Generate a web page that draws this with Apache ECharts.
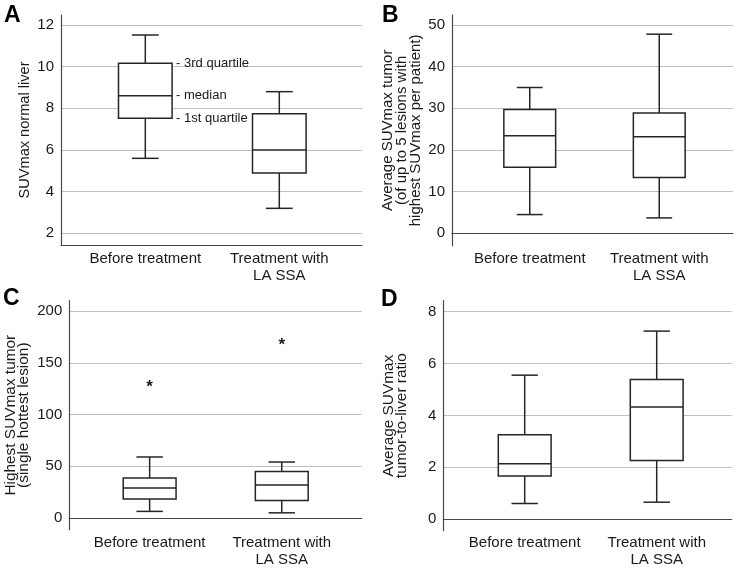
<!DOCTYPE html>
<html>
<head>
<meta charset="utf-8">
<script src="https://cdn.jsdelivr.net/npm/echarts@6/dist/echarts.min.js"></script>
<style>html,body{margin:0;padding:0;background:#fff}#c{width:740px;height:568px}</style>
</head>
<body>
<div id="c"></div>
<script>
// ---- data ----
const categories = ['Before treatment', 'Treatment with\nLA SSA'];
const panelLetters = ['A', 'B', 'C', 'D'];
const yTitles = [
  'SUVmax normal liver',
  'Average SUVmax tumor\n(of up to 5 lesions with\nhighest SUVmax per patient)',
  'Highest SUVmax tumor\n(single hottest lesion)',
  'Average SUVmax\ntumor-to-liver ratio'
];
// [min, Q1, median, Q3, max] per category
const boxA = [[5.6, 7.52, 8.61, 10.16, 11.52], [3.2, 4.9, 6.0, 7.74, 8.8]];
const boxB = [[4.5, 15.85, 23.4, 29.7, 35.0], [3.7, 13.4, 23.2, 28.9, 47.8]];
const boxC = [[5.8, 17.8, 28.6, 38.2, 58.6], [4.4, 16.3, 31.3, 44.5, 53.7]];
const boxD = [[0.55, 1.62, 2.09, 3.22, 5.53], [0.60, 2.22, 4.29, 5.36, 7.24]];
// outliers: [categoryIndex, value]
const outliersC = [[0, 130], [1, 171]];
const ticksA = [2, 4, 6, 8, 10, 12];
const ticksB = [0, 10, 20, 30, 40, 50];
const ticksC = [0, 50, 100, 150, 200];
const ticksD = [0, 2, 4, 6, 8];
const annotationLabels = ['- 1st quartile', '- median', '- 3rd quartile'];

// ---- layout (pixels) ----
const FONT = '"Liberation Sans", Arial, Helvetica, sans-serif';
const TXT = '#1a1a1a';
const panels = [
  {box: boxA, ticks: ticksA, min: 1.44, max: 12.48,
   frame: {left: 61, top: 15, width: 301, height: 230}, data: {left: 78.3, width: 268}, gap: 29,
   tfs: 14.6, tlh: 14.5, letter: [4, 4]},
  {box: boxB, ticks: ticksB, min: -2.97, max: 52.4,
   frame: {left: 452, top: 15, width: 281, height: 230.7}, data: {left: 465, width: 259}, gap: 29,
   tfs: 15, tlh: 14.2, letter: [382, 4]},
  {box: boxC, ticks: ticksC, min: -11.3, max: 210.3,
   frame: {left: 69.3, top: 300.7, width: 292.4, height: 229}, data: {left: 83.6, width: 264.2}, gap: 38.5,
   tfs: 15.4, tlh: 13.6, letter: [3, 287]},
  {box: boxD, ticks: ticksD, min: -0.44, max: 8.42,
   frame: {left: 443.3, top: 300.7, width: 288.4, height: 230}, data: {left: 458.7, width: 264}, gap: 34.5,
   tfs: 15.4, tlh: 13.6, letter: [381, 288]}
];

const grids = [], xAxes = [], yAxes = [], series = [], graphics = [];

function boxRender(params, api) {
  const x = api.value(0);
  const vals = [api.value(1), api.value(2), api.value(3), api.value(4), api.value(5)];
  const pts = vals.map(v => api.coord([x, v]));
  const cx = pts[0][0];
  const bw = api.size([1, 0])[0] * 0.4;
  const cw = bw * 0.5;
  const st = {stroke: '#262626', lineWidth: 1.5, fill: null};
  const line = (x1, y1, x2, y2) => ({type: 'line', shape: {x1, y1, x2, y2}, style: st});
  return {
    type: 'group',
    children: [
      line(cx, pts[0][1], cx, pts[1][1]),
      line(cx, pts[3][1], cx, pts[4][1]),
      line(cx - cw / 2, pts[0][1], cx + cw / 2, pts[0][1]),
      line(cx - cw / 2, pts[4][1], cx + cw / 2, pts[4][1]),
      {type: 'rect', shape: {x: cx - bw / 2, y: pts[3][1], width: bw, height: pts[1][1] - pts[3][1]},
       style: {stroke: '#262626', lineWidth: 1.5, fill: '#fff'}},
      line(cx - bw / 2, pts[2][1], cx + bw / 2, pts[2][1])
    ]
  };
}

panels.forEach((p, i) => {
  const gf = grids.length;
  grids.push({left: p.frame.left, top: p.frame.top, width: p.frame.width, height: p.frame.height, containLabel: false});
  grids.push({left: p.data.left, top: p.frame.top, width: p.data.width, height: p.frame.height, containLabel: false});
  // frame axes
  xAxes.push({gridIndex: gf, type: 'value', min: 0, max: 1,
    axisLine: {show: true, lineStyle: {color: '#484848', width: 1.2}},
    axisTick: {show: false}, axisLabel: {show: false}, splitLine: {show: false}});
  yAxes.push({gridIndex: gf, type: 'value', min: p.min, max: p.max,
    name: yTitles[i], nameLocation: 'middle', nameGap: p.gap, nameRotate: 90,
    nameTextStyle: {fontFamily: FONT, fontSize: p.tfs, lineHeight: p.tlh, color: TXT},
    axisLine: {show: true, lineStyle: {color: '#484848', width: 1.2}},
    axisTick: {show: false, customValues: p.ticks},
    axisLabel: {customValues: p.ticks, fontFamily: FONT, fontSize: 15, color: TXT, margin: 7},
    splitLine: {show: true, lineStyle: {color: '#c0c0c0', width: 1}}});
  // data axes
  const xi = xAxes.length, yi = yAxes.length;
  xAxes.push({gridIndex: gf + 1, type: 'category', data: categories,
    axisLine: {show: false}, axisTick: {show: false},
    axisLabel: {fontFamily: FONT, fontSize: 15, lineHeight: 17, color: TXT, margin: 5, interval: 0}});
  yAxes.push({gridIndex: gf + 1, type: 'value', min: p.min, max: p.max, show: false,
    splitLine: {show: false}});
  series.push({type: 'custom', xAxisIndex: xi, yAxisIndex: yi, renderItem: boxRender,
    encode: {x: 0, y: [1, 2, 3, 4, 5]}, clip: false,
    data: p.box.map((b, k) => [k].concat(b)), z: 3});
  if (i === 2) {
    series.push({type: 'custom', xAxisIndex: xi, yAxisIndex: yi, clip: false, z: 4,
      encode: {x: 0, y: 1},
      data: outliersC,
      renderItem: (params, api) => {
        const c = api.coord([api.value(0), api.value(1)]);
        return {type: 'text', x: c[0], y: c[1] + 4,
          style: {text: '*', fontFamily: FONT, fontSize: 17, fontWeight: 'bold', fill: TXT, align: 'center', verticalAlign: 'middle'}};
      }});
  }
  if (i === 0) {
    const b = p.box[0];
    series.push({type: 'custom', xAxisIndex: xi, yAxisIndex: yi, clip: false, z: 4,
      encode: {x: 0, y: 1},
      data: [[0, b[1], 0], [0, b[2], 1], [0, b[3], 2]],
      renderItem: (params, api) => {
        const c = api.coord([api.value(0), api.value(1)]);
        const bw = api.size([1, 0])[0] * 0.4;
        return {type: 'text', x: c[0] + bw / 2 + 4, y: c[1],
          style: {text: annotationLabels[api.value(2)], fontFamily: FONT, fontSize: 13, fill: TXT, align: 'left', verticalAlign: 'middle'}};
      }});
  }
  graphics.push({type: 'text', left: p.letter[0], top: p.letter[1],
    style: {text: panelLetters[i], fontFamily: FONT, fontSize: 23, fontWeight: 'bold', fill: '#000'}});
});

const chart = echarts.init(document.getElementById('c'), null, {renderer: 'canvas'});
chart.setOption({
  animation: false,
  backgroundColor: '#fff',
  grid: grids, xAxis: xAxes, yAxis: yAxes, series: series, graphic: graphics
});
</script>
</body>
</html>
